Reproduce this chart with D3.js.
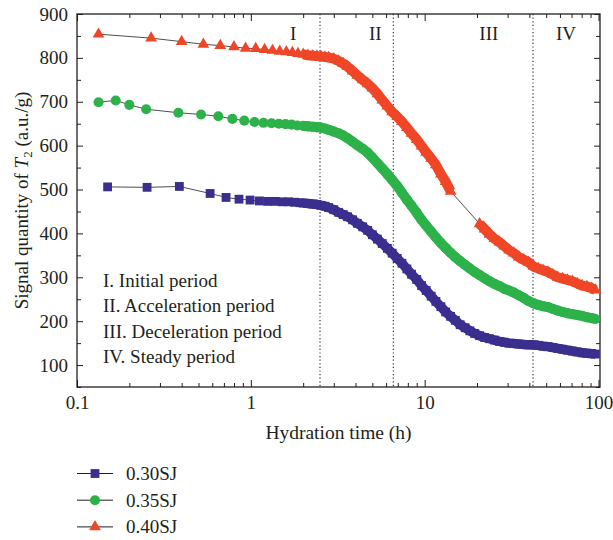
<!DOCTYPE html>
<html>
<head>
<meta charset="utf-8">
<script src="https://cdnjs.cloudflare.com/ajax/libs/d3/7.8.5/d3.min.js"></script>
<style>
  body { margin: 0; background: #fff; }
  svg { display: block; font-family: "Liberation Serif", "Times New Roman", serif; }
  text { fill: #231f20; }
</style>
</head>
<body>
<svg class="graph" width="613" height="540"></svg>
<script>
//======
// Data
//======

var seriesNames = ["0.30SJ", "0.35SJ", "0.40SJ"];

// early readings (sparse part, before ~2 h)
var hours030Early = [0.15, 0.253, 0.388, 0.583, 0.72, 0.855, 0.99, 1.12, 1.25, 1.383, 1.517, 1.65, 1.783, 1.917];
var signal030Early = [506, 505, 507, 491, 482, 478, 476, 474, 473, 473, 472, 472, 471, 470];
var hours035Early = [0.133, 0.167, 0.2, 0.25, 0.383, 0.517, 0.65, 0.783, 0.917, 1.05, 1.183, 1.317, 1.45, 1.583, 1.717, 1.85];
var signal035Early = [699, 703, 693, 683, 675, 671, 667, 661, 657, 654, 652, 651, 650, 649, 648, 646];
var hours040Early = [0.133, 0.267, 0.4, 0.533, 0.667, 0.8, 0.933, 1.067, 1.2, 1.333, 1.467, 1.6, 1.733, 1.867];
var signal040Early = [854, 845, 837, 831, 828, 825, 822, 821, 819, 817, 815, 814, 812, 810];

// dense readings (shared time grid from 2 h on)
var denseHours = [2.0, 2.13, 2.27, 2.4, 2.53, 2.67, 2.8, 3.0, 3.2, 3.4, 3.6, 3.85, 4.1, 4.4, 4.7, 5.0, 5.35, 5.7, 6.1, 6.5,
  6.95, 7.4, 7.9, 8.4, 9.0, 9.6, 10.2, 10.9, 11.6, 12.4, 13.2, 14.1, 15.0, 16.0, 17.1, 18.2, 19.4, 20.7, 22.1, 23.6,
  25.2, 26.9, 28.7, 30.6, 32.6, 34.8, 37.1, 39.6, 42.2, 45.0, 48.0, 51.2, 54.6, 58.3, 62.2, 66.3, 70.7, 75.4, 80.4, 85.8,
  91.5, 96.0];
var signal030Dense = [469, 468, 467, 466, 464, 462, 459, 454, 448, 443, 438, 431, 423, 415, 407, 397, 387, 377, 366, 355,
  343, 332, 319, 307, 295, 281, 270, 257, 245, 233, 221, 211, 202, 192, 185, 178, 172, 167, 163, 160,
  157, 154, 152, 150, 149, 148, 147, 146, 146, 145, 143, 142, 140, 138, 136, 134, 132, 130, 128, 127,
  126, 125];
var signal035Dense = [645, 644, 643, 642, 641, 639, 636, 632, 628, 623, 617, 609, 601, 593, 584, 573, 560, 548, 535, 522,
  508, 493, 477, 463, 447, 431, 418, 404, 391, 378, 367, 356, 346, 337, 328, 320, 312, 305, 298, 291,
  285, 280, 274, 270, 265, 259, 253, 246, 241, 237, 234, 232, 228, 224, 221, 218, 216, 214, 212, 209,
  207, 205];
var signal040Dense = [808, 806, 805, 804, 803, 802, 801, 798, 793, 787, 780, 770, 760, 750, 741, 731, 718, 704, 690, 677,
  666, 655, 641, 628, 614, 599, 585, 571, 556, 535, 518, 496, null, null, null, null, null, 422, 410, 398,
  388, 380, 371, 362, 355, 346, 340, 334, 325, 320, 316, 312, 306, 300, 297, 294, 291, 286, 281, 279,
  275, 271];

// period boundaries (h) and labels
var periodBounds = [2.5, 6.6, 42];
var periodLabels = ["I", "II", "III", "IV"];
var periodLabelHours = [1.75, 5.2, 23.4, 65];
var periodNotes = ["I. Initial period", "II. Acceleration period", "III. Deceleration period", "IV. Steady period"];

var xTickValues = [0.1, 1, 10, 100];
var xTickLabels = ["0.1", "1", "10", "100"];
var yTickValues = [100, 200, 300, 400, 500, 600, 700, 800, 900];

//=======
// Chart
//=======

var colors = ["#3a2e8e", "#2db24a", "#ee4627"];
var symbols = [d3.symbolSquare, d3.symbolCircle, d3.symbolTriangle];
var symbolSizes = [78, 80, 60];
var bandWidths = [9.5, 10, 10];

var svg = d3.select(".graph");

var margin = {left: 77, right: 13, top: 14, bottom: 153};
var width = 613, height = 540;

var x = d3.scaleLog().domain([0.1, 102]).range([margin.left, width - margin.right]);
var y = d3.scaleLinear().domain([50, 900]).range([height - margin.bottom, margin.top]);

function zip(hours, values) {
  return hours.map(function (h, i) { return {t: h, v: values[i]}; });
}

var earlySeries = [
  zip(hours030Early, signal030Early),
  zip(hours035Early, signal035Early),
  zip(hours040Early, signal040Early)
];
var denseSeries = [
  zip(denseHours, signal030Dense),
  zip(denseHours, signal035Dense),
  zip(denseHours, signal040Dense)
];

var x0 = x.range()[0], x1 = x.range()[1], y0 = y.range()[0], y1 = y.range()[1];

// minor / major ticks, all pointing inward
var xMinor = x.ticks().filter(function (d) { return xTickValues.indexOf(d) < 0; });
var yMinor = d3.range(50, 901, 50).filter(function (d) { return yTickValues.indexOf(d) < 0; });

function styleAxis(g) {
  g.select(".domain").remove();
  g.selectAll("line").attr("stroke", "#231f20").attr("stroke-width", 1);
  g.selectAll("text").attr("font-size", 19).attr("fill", "#231f20")
    .attr("font-family", "Liberation Serif, serif");
}

svg.append("g").attr("transform", "translate(0," + y0 + ")")
  .call(d3.axisBottom(x).tickValues(xTickValues).tickFormat(function (d, i) { return xTickLabels[i]; })
    .tickSizeInner(-7).tickSizeOuter(0).tickPadding(9))
  .call(styleAxis);
svg.append("g").attr("transform", "translate(0," + y0 + ")")
  .call(d3.axisBottom(x).tickValues(xMinor).tickFormat("").tickSizeInner(-4).tickSizeOuter(0))
  .call(styleAxis);
svg.append("g").attr("transform", "translate(0," + y1 + ")")
  .call(d3.axisTop(x).tickValues(xTickValues).tickFormat("").tickSizeInner(-7).tickSizeOuter(0))
  .call(styleAxis);
svg.append("g").attr("transform", "translate(0," + y1 + ")")
  .call(d3.axisTop(x).tickValues(xMinor).tickFormat("").tickSizeInner(-4).tickSizeOuter(0))
  .call(styleAxis);

svg.append("g").attr("transform", "translate(" + x0 + ",0)")
  .call(d3.axisLeft(y).tickValues(yTickValues).tickSizeInner(-6).tickSizeOuter(0).tickPadding(9))
  .call(styleAxis);
svg.append("g").attr("transform", "translate(" + x0 + ",0)")
  .call(d3.axisLeft(y).tickValues(yMinor).tickFormat("").tickSizeInner(-4).tickSizeOuter(0))
  .call(styleAxis);
svg.append("g").attr("transform", "translate(" + x1 + ",0)")
  .call(d3.axisRight(y).tickValues(yTickValues).tickFormat("").tickSizeInner(-6).tickSizeOuter(0))
  .call(styleAxis);
svg.append("g").attr("transform", "translate(" + x1 + ",0)")
  .call(d3.axisRight(y).tickValues(yMinor).tickFormat("").tickSizeInner(-4).tickSizeOuter(0))
  .call(styleAxis);

// frame
svg.append("rect")
  .attr("x", x0).attr("y", y1)
  .attr("width", x1 - x0).attr("height", y0 - y1)
  .attr("fill", "none").attr("stroke", "#231f20").attr("stroke-width", 1.3);

// period dividers
svg.selectAll(".divider").data(periodBounds).enter().append("line")
  .attr("class", "divider")
  .attr("x1", function (d) { return x(d); }).attr("x2", function (d) { return x(d); })
  .attr("y1", y1).attr("y2", y0)
  .attr("stroke", "#231f20").attr("stroke-width", 1.1)
  .attr("stroke-dasharray", "1.2,2.4");

svg.selectAll(".period").data(periodLabels).enter().append("text")
  .attr("class", "period")
  .attr("x", function (d, i) { return x(periodLabelHours[i]); })
  .attr("y", 40)
  .attr("text-anchor", "middle")
  .attr("font-size", 19)
  .text(function (d) { return d; });

svg.selectAll(".note").data(periodNotes).enter().append("text")
  .attr("class", "note")
  .attr("x", 103)
  .attr("y", function (d, i) { return 287 + i * 25.3; })
  .attr("font-size", 19)
  .text(function (d) { return d; });

// series
var line = d3.line()
  .x(function (d) { return x(d.t); })
  .y(function (d) { return y(d.v); });

var band = d3.line()
  .defined(function (d) { return d.v != null; })
  .x(function (d) { return x(d.t); })
  .y(function (d) { return y(d.v); });

denseSeries.forEach(function (dense, i) {
  var all = earlySeries[i].concat(dense).filter(function (d) { return d.v != null; });

  // thin connecting line
  svg.append("path")
    .datum(all)
    .attr("d", line)
    .attr("fill", "none")
    .attr("stroke", "#231f20")
    .attr("stroke-width", 0.8);

  // dense records overlap into a solid band
  svg.append("path")
    .datum(dense)
    .attr("d", band)
    .attr("fill", "none")
    .attr("stroke", colors[i])
    .attr("stroke-width", bandWidths[i])
    .attr("stroke-linejoin", "round");

  svg.append("g").selectAll("path").data(all).enter().append("path")
    .attr("transform", function (d) { return "translate(" + x(d.t) + "," + y(d.v) + ")"; })
    .attr("d", d3.symbol().type(symbols[i]).size(symbolSizes[i]))
    .attr("fill", colors[i]);
});

// axis titles
svg.append("text")
  .attr("x", (x0 + x1) / 2)
  .attr("y", 439)
  .attr("text-anchor", "middle")
  .attr("font-size", 19.5)
  .text("Hydration time (h)");

var yTitle = svg.append("text")
  .attr("transform", "translate(28," + ((y0 + y1) / 2) + ") rotate(-90)")
  .attr("text-anchor", "middle")
  .attr("font-size", 19);
yTitle.append("tspan").text("Signal quantity of ");
yTitle.append("tspan").attr("font-style", "italic").text("T");
yTitle.append("tspan").attr("font-size", 13).attr("dy", 4).text("2");
yTitle.append("tspan").attr("dy", -4).text(" (a.u./g)");

// legend
var legend = svg.append("g").selectAll("g").data(seriesNames).enter().append("g")
  .attr("transform", function (d, i) { return "translate(0," + (473.5 + i * 26.7) + ")"; });

legend.append("line")
  .attr("x1", 77).attr("x2", 113)
  .attr("stroke", "#231f20").attr("stroke-width", 1);
legend.append("path")
  .attr("transform", "translate(95,0)")
  .attr("d", function (d, i) { return d3.symbol().type(symbols[i]).size(symbolSizes[i])(); })
  .attr("fill", function (d, i) { return colors[i]; });
legend.append("text")
  .attr("x", 126).attr("y", 6.5)
  .attr("font-size", 19)
  .text(function (d) { return d; });
</script>
</body>
</html>
